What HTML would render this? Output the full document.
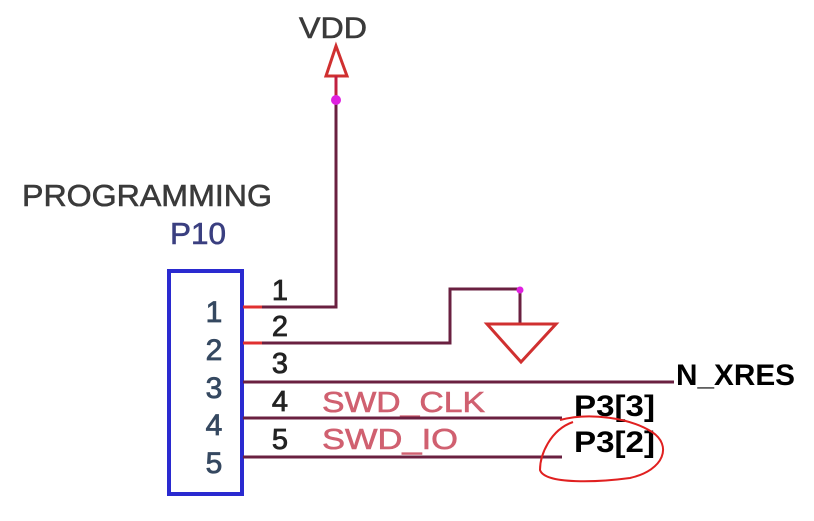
<!DOCTYPE html>
<html><head><meta charset="utf-8"><style>
html,body{margin:0;padding:0;background:#fff;}
svg{display:block;}
</style></head><body>
<svg width="814" height="521" viewBox="0 0 814 521" xmlns="http://www.w3.org/2000/svg" font-family="Liberation Sans, Arial, sans-serif">
<rect width="814" height="521" fill="#fff"/>
<text x="22" y="206" font-size="31" fill="#3a3a3a" stroke="#3a3a3a" stroke-width="0.6" textLength="250" lengthAdjust="spacingAndGlyphs">PROGRAMMING</text>
<text x="170" y="244" font-size="31" fill="#3a3f80" stroke="#3a3f80" stroke-width="0.6" textLength="56" lengthAdjust="spacingAndGlyphs">P10</text>
<text x="299" y="38" font-size="30" fill="#3a3a3a" stroke="#3a3a3a" stroke-width="0.6" textLength="68" lengthAdjust="spacingAndGlyphs">VDD</text>
<!-- box -->
<rect x="169" y="271" width="73" height="223" fill="none" stroke="#2a2ad0" stroke-width="4"/>
<g font-size="30" fill="#354860" stroke="#354860" stroke-width="0.8" text-anchor="middle">
<text x="214" y="322">1</text><text x="214" y="360">2</text><text x="214" y="398">3</text><text x="214" y="435">4</text><text x="214" y="473">5</text>
</g>
<g font-size="29" fill="#222" stroke="#222" stroke-width="0.8" text-anchor="middle">
<text x="280" y="300">1</text><text x="280" y="336">2</text><text x="280" y="373">3</text><text x="280" y="411">4</text><text x="280" y="449">5</text>
</g>
<g font-size="29" fill="#d06070" stroke="#d06070" stroke-width="0.6">
<text x="322" y="412" textLength="163" lengthAdjust="spacingAndGlyphs">SWD_CLK</text>
<text x="322" y="449" textLength="136" lengthAdjust="spacingAndGlyphs">SWD_IO</text>
</g>
<!-- wires -->
<g fill="none" stroke="#6a2040" stroke-width="3">
<polyline points="243,307 336,307 336,100"/>
<polyline points="243,343 450,343 450,289 520,289 520,323"/>
<line x1="243" y1="382" x2="674" y2="382"/>
<line x1="243" y1="418" x2="562" y2="418"/>
<line x1="243" y1="457" x2="562" y2="457"/>
</g>
<line x1="243" y1="307" x2="262" y2="307" stroke="#e03030" stroke-width="3"/>
<line x1="243" y1="343" x2="262" y2="343" stroke="#e03030" stroke-width="3"/>
<!-- VDD arrow -->
<polygon points="336,46 326,76 347,76" fill="#fff" stroke="#d03030" stroke-width="3"/>
<line x1="336" y1="76" x2="336" y2="100" stroke="#c02040" stroke-width="3"/>
<circle cx="336" cy="100" r="5" fill="#e020e0"/>
<!-- ground -->
<polygon points="487,324 556,324 521,362" fill="#fff" stroke="#d03030" stroke-width="3"/>
<circle cx="520" cy="290" r="3.5" fill="#e020e0"/>
<g font-size="30" font-weight="bold" fill="#000">
<text x="676" y="385" textLength="119" lengthAdjust="spacingAndGlyphs">N_XRES</text>
<text x="574" y="416" textLength="81" lengthAdjust="spacingAndGlyphs">P3[3]</text>
<text x="574" y="452" textLength="81" lengthAdjust="spacingAndGlyphs">P3[2]</text>
</g>
<path d="M573,422 C550,430 540,455 540,470 C545,485 600,482 630,478 C665,470 672,445 652,432 C630,418 590,412 560,420" fill="none" stroke="#e02020" stroke-width="2"/>
</svg>
</body></html>
